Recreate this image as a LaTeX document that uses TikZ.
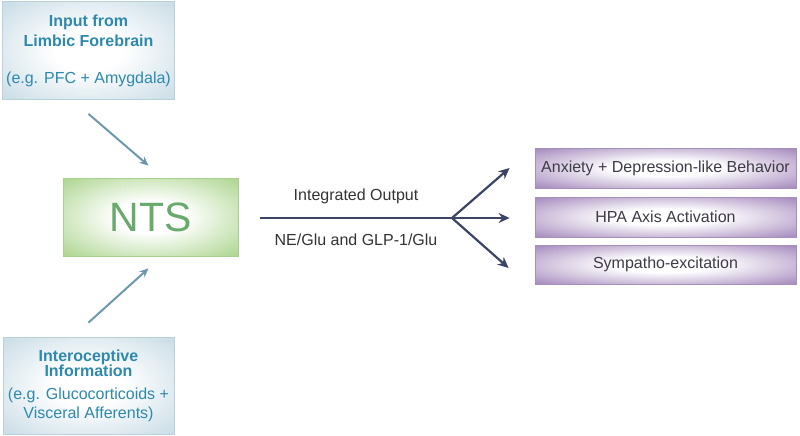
\documentclass[tikz,border=0pt]{standalone}
\usepackage{fontspec}
\setmainfont{Liberation Sans}
\usetikzlibrary{positioning,arrows.meta}

\definecolor{intext}{HTML}{2E89AD}
\definecolor{inedge}{HTML}{B9D1DC}
\definecolor{infill}{HTML}{CCDEE7}
\definecolor{ntsedge}{HTML}{A9D08F}
\definecolor{ntsfill}{HTML}{B0D794}
\definecolor{ntstext}{HTML}{68AA6C}
\definecolor{outedge}{HTML}{A68FBA}
\definecolor{outfill}{HTML}{A98FC0}
\definecolor{outtext}{HTML}{3F3A48}
\definecolor{navy}{HTML}{3C4466}
\definecolor{feedcol}{HTML}{6E98AC}

\makeatletter
\pgfdeclareradialshading[tikz@radial@inner,tikz@radial@outer]{glow}{\pgfpoint{0bp}{0bp}}%
  {color(0bp)=(tikz@radial@inner);color(10bp)=(tikz@radial@inner);%
   color(34bp)=(tikz@radial@outer);color(50bp)=(tikz@radial@outer)}
\makeatother

\tikzset{
  inbox/.style={draw=inedge, line width=0.8pt, inner color=white, outer color=infill,
    shading=glow, minimum width=171pt, minimum height=98pt, text=intext, align=center},
  outbox/.style={draw=outedge, line width=0.8pt, inner color=white, outer color=outfill,
    shading=glow, minimum width=261pt, minimum height=40pt, text=outtext,
    font=\fontsize{16}{18}\selectfont},
  feed/.style={draw=feedcol, line width=2pt, -{Stealth[length=9pt,width=8pt]}},
  outarrow/.style={draw=navy, line width=2.2pt, -{Stealth[length=11pt,width=10pt]}},
  lbl/.style={text=black!80, font=\fontsize{16}{18}\selectfont}
}

\begin{document}
\begin{tikzpicture}[x=1pt,y=-1pt]
\useasboundingbox (0,0) rectangle (800,436);

% inputs
\node[inbox, font=\fontsize{16}{20}\selectfont] (limbic) at (88.5,50.5)
  {\textbf{Input from}\\\textbf{Limbic Forebrain}\\[17pt](e.g. PFC + Amygdala)};
\node[inbox, font=\fontsize{16}{15}\selectfont, minimum height=97pt] (intero) at (88.5,385.5)
  {\textbf{Interoceptive}\\\textbf{Information}\\[8pt](e.g. Glucocorticoids +\\[4pt]Visceral Afferents)};

% nucleus
\node[draw=ntsedge, line width=0.8pt, inner color=white, outer color=ntsfill, shading=glow,
  minimum width=175pt, minimum height=78pt, text=ntstext,
  font=\fontsize{41}{44}\selectfont] (nts) at (150.5,217) {NTS};

\draw[feed] ([shift={(0,14)}]limbic.south) -- ([shift={(-2,-12)}]nts.north);
\draw[feed] ([shift={(0,-14)}]intero.north) -- ([shift={(-2,12)}]nts.south);

% outputs
\node[outbox] (anx) at (665.5,168) {Anxiety + Depression-like Behavior};
\node[outbox] (hpa) at (665.5,217) {HPA Axis Activation};
\node[outbox, minimum height=39pt] (symp) at (665.5,264.5) {Sympatho-excitation};

\coordinate (outstart) at (260,218);
\coordinate (split) at (452,218);
\draw[navy, line width=2.2pt] (outstart) -- (split);
\draw[outarrow] (split) -- ([xshift=-25pt]anx.west);
\draw[outarrow] (split) -- ([shift={(-25,1)}]hpa.west);
\draw[outarrow] (split) -- ([shift={(-26,3.5)}]symp.west);

\node[lbl] (integ) at (356,196) {Integrated Output};
\node[lbl] (trans) at (356,240) {NE/Glu and GLP-1/Glu};
\end{tikzpicture}
\end{document}
